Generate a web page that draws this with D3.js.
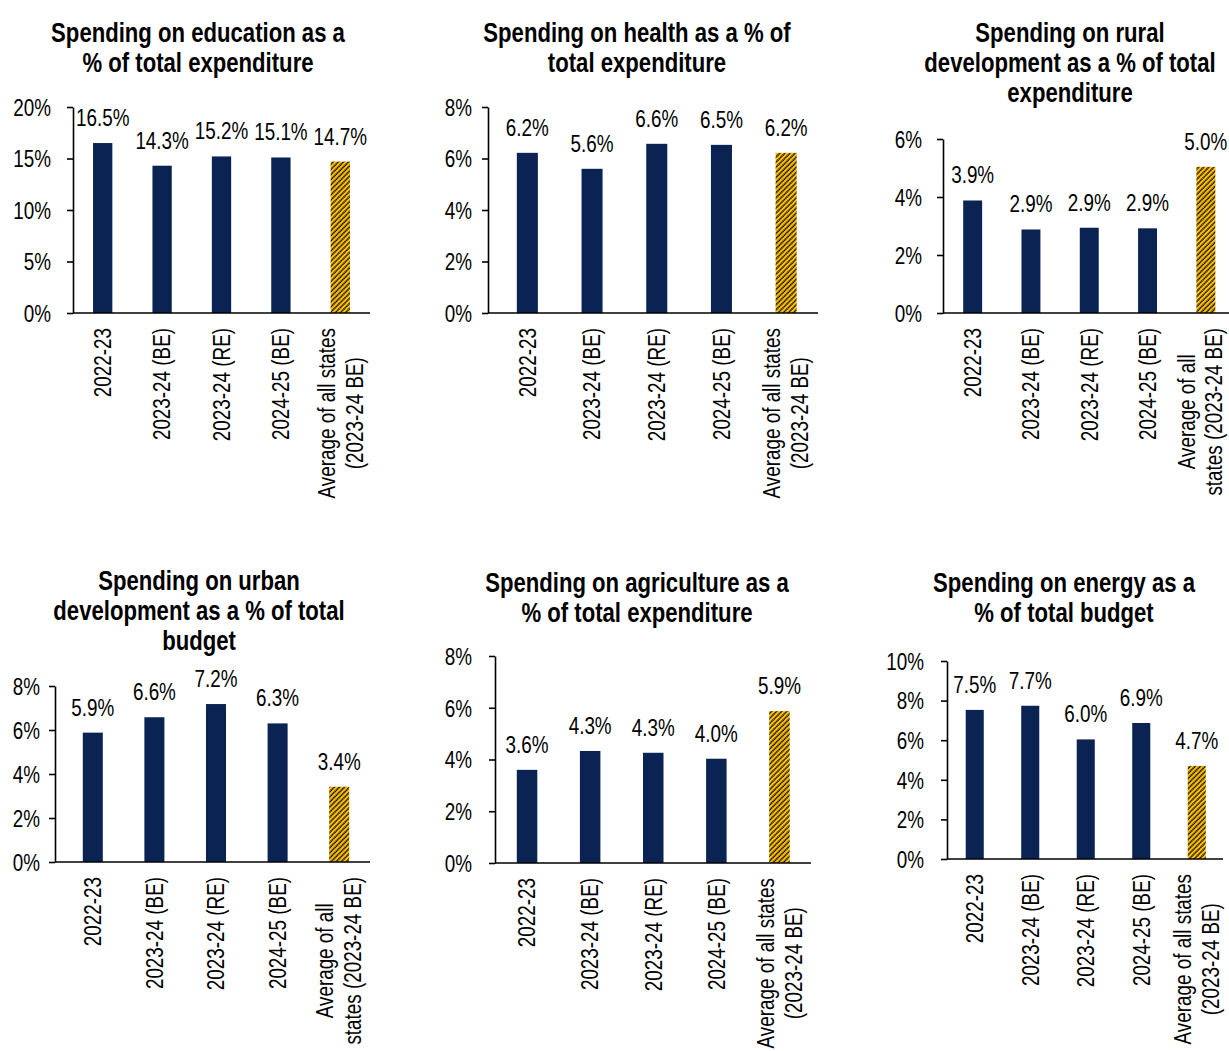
<!DOCTYPE html>
<html>
<head>
<meta charset="utf-8">
<script src="https://cdn.jsdelivr.net/npm/d3@7"></script>
<style>
  body { margin: 0; background: #fff; }
  svg { display: block; }
  text { font-family: "Liberation Sans", Arial, sans-serif; fill: #000; }
</style>
</head>
<body>
<svg id="chart" width="1229" height="1051"></svg>
<script>
// ---- data ----
const categories = ["2022-23", "2023-24 (BE)", "2023-24 (RE)", "2024-25 (BE)", "Average of all states (2023-24 BE)"];
const avgWide = ["Average of all states", "(2023-24 BE)"];
const avgNarrow = ["Average of all", "states (2023-24 BE)"];

const education = [16.5, 14.3, 15.2, 15.1, 14.7];
const health = [6.22, 5.6, 6.57, 6.53, 6.22];
const rural = [3.88, 2.88, 2.94, 2.92, 5.04];
const urban = [5.88, 6.58, 7.18, 6.3, 3.42];
const agriculture = [3.6, 4.33, 4.26, 4.03, 5.87];
const energy = [7.53, 7.74, 6.04, 6.87, 4.7];

const titleEducation = ["Spending on education as a", "% of total expenditure"];
const titleHealth = ["Spending on health as a % of", "total expenditure"];
const titleRural = ["Spending on rural", "development as a % of total", "expenditure"];
const titleUrban = ["Spending on urban", "development as a % of total", "budget"];
const titleAgri = ["Spending on agriculture as a", "% of total expenditure"];
const titleEnergy = ["Spending on energy as a", "% of total budget"];

// ---- layout of the six panels ----
const panels = [
  {title: titleEducation, values: education, max: 20, step: 5, avg: avgWide,
   ax: 73, x0: 73, x1: 370, right: 370, yTop: 107, yBot: 313, tickEnd: 51, tx: 198, ty: 42},
  {title: titleHealth, values: health, max: 8, step: 2, avg: avgWide,
   ax: 488, x0: 495, x1: 818.5, right: 818, yTop: 107, yBot: 313, tickEnd: 472, tx: 637, ty: 42},
  {title: titleRural, values: rural, max: 6, step: 2, avg: avgNarrow, avgShift: -6, avgGap: 27,
   ax: 943, x0: 943.5, x1: 1235, right: 1229, yTop: 139, yBot: 313, tickEnd: 922, tx: 1070, ty: 42},
  {title: titleUrban, values: urban, max: 8, step: 2, avg: avgNarrow,
   ax: 55, x0: 62, x1: 370, right: 370, yTop: 686, yBot: 862, tickEnd: 40, tx: 199, ty: 590},
  {title: titleAgri, values: agriculture, max: 8, step: 2, avg: avgWide,
   ax: 495, x0: 495.5, x1: 811, right: 811, yTop: 656, yBot: 863, tickEnd: 472, tx: 637, ty: 592},
  {title: titleEnergy, values: energy, max: 10, step: 2, avg: avgWide,
   ax: 947, x0: 947, x1: 1224.5, right: 1223, yTop: 661, yBot: 859, tickEnd: 924, tx: 1064, ty: 592}
];

const navy = "#0a2352";
const SX = 0.82;   // narrow face look
const svg = d3.select("#chart");

const defs = svg.append("defs");
const pat = defs.append("pattern")
  .attr("id", "hatch")
  .attr("patternUnits", "userSpaceOnUse")
  .attr("width", 3.6).attr("height", 3.6)
  .attr("patternTransform", "rotate(45)");
pat.append("rect").attr("width", 3.6).attr("height", 3.6).attr("fill", "#ffc000");
pat.append("line")
  .attr("x1", 1).attr("y1", 0).attr("x2", 1).attr("y2", 3.6)
  .attr("stroke", "#000").attr("stroke-width", 1.6)
  .attr("stroke-dasharray", "1.3 0.5");

// text in a scaled group so the regular face looks narrow
function ntext(parent, x, y, str, o) {
  o = o || {};
  const g = parent.append("g")
    .attr("transform", `translate(${x},${y})` + (o.rotate ? " rotate(-90)" : "") + ` scale(${o.sx || SX},1)`);
  return g.append("text")
    .text(str)
    .attr("font-size", o.size || 23)
    .attr("font-weight", o.weight || "normal")
    .attr("text-anchor", o.anchor || "middle")
    .attr("dy", o.dy || 0);
}

const fmt = d3.format(".1f");

panels.forEach(p => {
  const g = svg.append("g");
  const ticks = d3.range(0, p.max + 0.001, p.step);

  const x = d3.scaleBand()
    .domain(categories)
    .range([p.x0, p.x1])
    .paddingInner(0.675)
    .paddingOuter(0.3375);
  const y = d3.scaleLinear().domain([0, p.max]).range([p.yBot, p.yTop]);

  // title
  p.title.forEach((line, i) => {
    ntext(g, p.tx, p.ty + i * 30, line, {size: 27, weight: "bold", sx: 0.82});
  });

  // bars
  g.selectAll("rect.bar").data(p.values).join("rect")
    .attr("class", "bar")
    .attr("x", (d, i) => x(categories[i]))
    .attr("width", x.bandwidth())
    .attr("y", d => y(d))
    .attr("height", d => y(0) - y(d))
    .attr("fill", (d, i) => i === categories.length - 1 ? "url(#hatch)" : navy);

  // value labels
  p.values.forEach((v, i) => {
    ntext(g, x(categories[i]) + x.bandwidth() / 2, y(v) - 17, fmt(v) + "%");
  });

  // y axis
  const yAxis = g.append("g")
    .attr("transform", `translate(${p.ax},0)`)
    .call(d3.axisLeft(y).tickValues(ticks).tickSize(6).tickSizeOuter(0).tickFormat(d => d + "%"));
  yAxis.select(".domain").attr("stroke", "#000").attr("stroke-width", 1.6);
  yAxis.selectAll(".tick line").attr("stroke", "#000").attr("stroke-width", 1.6);
  yAxis.selectAll(".tick text")
    .attr("font-size", 23)
    .attr("font-family", "Liberation Sans, Arial, sans-serif")
    .attr("fill", "#000")
    .attr("transform", `scale(${SX},1)`)
    .attr("x", -(p.ax - p.tickEnd) / SX)
    .attr("dy", "0.36em");

  // x axis line
  g.append("line")
    .attr("x1", p.ax).attr("x2", p.right)
    .attr("y1", p.yBot).attr("y2", p.yBot)
    .attr("stroke", "#000").attr("stroke-width", 1.6);

  // category labels, rotated
  categories.forEach((c, i) => {
    const cx = x(c) + x.bandwidth() / 2;
    const lines = i === categories.length - 1 ? p.avg : [c];
    if (lines.length === 1) {
      ntext(g, cx, p.yBot + 15, lines[0], {rotate: true, anchor: "end", dy: "0.36em"});
    } else {
      const texts = lines.map(l => ntext(g, 0, 0, l, {rotate: true}));
      const L = d3.max(texts, t => t.node().getComputedTextLength()) * SX;
      const gap = p.avgGap || 28;
      texts.forEach((t, k) => {
        const lx = cx + (p.avgShift || 0) + (k - (lines.length - 1) / 2) * gap;
        d3.select(t.node().parentNode)
          .attr("transform", `translate(${lx},${p.yBot + 15 + L / 2}) rotate(-90) scale(${SX},1)`);
        t.attr("dy", "0.36em");
      });
    }
  });
});
</script>
</body>
</html>
